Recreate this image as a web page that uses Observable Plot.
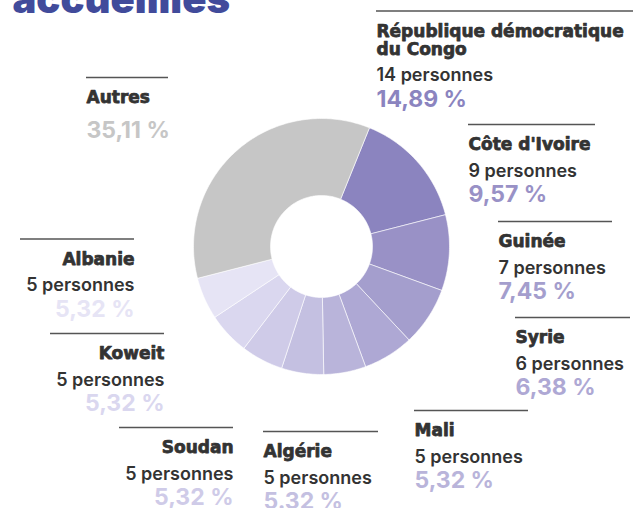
<!DOCTYPE html>
<html><head><meta charset="utf-8">
<script src="https://cdn.jsdelivr.net/npm/d3@7"></script>
<script src="https://cdn.jsdelivr.net/npm/@observablehq/plot@0.6"></script>
<style>html,body{margin:0;padding:0;background:#fff;overflow:hidden} svg{display:block}</style>
</head><body><div id="chart"></div>
<script>
// ---- Data ----
const title = "accueillies";
const countries = ["République démocratique du Congo","Côte d'Ivoire","Guinée","Syrie","Mali","Algérie","Soudan","Koweit","Albanie","Autres"];
const nameLines = [["République démocratique","du Congo"],["Côte d'Ivoire"],["Guinée"],["Syrie"],["Mali"],["Algérie"],["Soudan"],["Koweit"],["Albanie"],["Autres"]];
const persons = [14,9,7,6,5,5,5,5,5,33];
const personLabels = ["14 personnes","9 personnes","7 personnes","6 personnes","5 personnes","5 personnes","5 personnes","5 personnes","5 personnes",null];
const percents = [14.89,9.57,7.45,6.38,5.32,5.32,5.32,5.32,5.32,35.11];
const pctLabels = ["14,89 %","9,57 %","7,45 %","6,38 %","5,32 %","5.32 %","5,32 %","5,32 %","5,32 %","35,11 %"];
const colors = ["#8b84bf","#9991c6","#a49ecd","#aea8d4","#b9b4da","#c4c0e1","#cfcbe8","#dad7ef","#e6e4f5","#c6c6c6"];

// ---- Layout (annotation placement, not data) ----
const W = 635, H = 508;
const CX = 321, CY = 246, R_OUT = 128, R_IN = 51, START_DEG = 22;
const labelLayout = [
  {x1:376, x2:633, y:10.5, anchor:"start"},
  {x1:468, x2:595, y:124, anchor:"start"},
  {x1:498, x2:612, y:221, anchor:"start"},
  {x1:515, x2:630, y:317, anchor:"start"},
  {x1:414, x2:528, y:410, anchor:"start"},
  {x1:263, x2:378, y:431, anchor:"start"},
  {x1:119, x2:233, y:427, anchor:"end"},
  {x1:50,  x2:164, y:333, anchor:"end"},
  {x1:20,  x2:134, y:238.5, anchor:"end"},
  {x1:86,  x2:168, y:77, anchor:"start"}
];
const FONT = "Inter, 'Open Sans', sans-serif";
const NAME_FONT = "'DejaVu Sans', Inter, sans-serif";

// ---- Slices from the data ----
const arcs = d3.pie().sort(null).value(d => d)
  .startAngle(START_DEG * Math.PI / 180)
  .endAngle(START_DEG * Math.PI / 180 + 2 * Math.PI)(percents);
const slicePts = [];
arcs.forEach((a, i) => {
  const n = Math.max(8, Math.ceil((a.endAngle - a.startAngle) / (Math.PI / 180)));
  const pts = [];
  for (let k = 0; k <= n; k++) pts.push([R_OUT, a.startAngle + (a.endAngle - a.startAngle) * k / n]);
  for (let k = n; k >= 0; k--) pts.push([R_IN, a.startAngle + (a.endAngle - a.startAngle) * k / n]);
  pts.push(pts[0]);
  pts.forEach(([r, t]) => slicePts.push({country: countries[i], x: CX + r * Math.sin(t), y: CY - r * Math.cos(t)}));
});

// ---- Label rows ----
const textRows = [];
countries.forEach((c, i) => {
  const L = labelLayout[i];
  const x = L.anchor === "start" ? L.x1 : L.x2;
  let y = L.y + 25.5;
  nameLines[i].forEach((ln, j) => {
    if (j > 0) y += 18;
    textRows.push({kind:"name", anchor:L.anchor, x, y, text:ln, color:"#333"});
  });
  if (personLabels[i]) {
    y += 26.5;
    textRows.push({kind:"pers", anchor:L.anchor, x, y, text:personLabels[i], color:"#333"});
    y += 25.5;
  } else {
    y += 34.5;
  }
  textRows.push({kind:"pct", anchor:L.anchor, x, y, text:pctLabels[i], color:colors[i]});
});
const rules = countries.map((c, i) => ({...labelLayout[i]}));

const styles = {
  name: {fontSize: 17, fontWeight: 700, fontFamily: NAME_FONT, stroke: d => d.color, strokeWidth: 0.75},
  pers: {fontSize: 18, fontWeight: 600, fontFamily: FONT},
  pct:  {fontSize: 23, fontWeight: 700, fontFamily: FONT}
};
const textMarks = [];
for (const kind of ["name","pers","pct"]) {
  for (const anchor of ["start","end"]) {
    const rows = textRows.filter(d => d.kind === kind && d.anchor === anchor);
    textMarks.push(Plot.text(rows, {
      x: "x", y: "y", text: "text", fill: d => d.color,
      textAnchor: anchor, lineAnchor: "bottom", ariaLabel: "lbl-" + kind,
      ...styles[kind]
    }));
  }
}

const chart = Plot.plot({
  width: W, height: H,
  margin: 0,
  x: {domain: [0, W], range: [0, W], axis: null},
  y: {domain: [0, H], range: [0, H], axis: null},
  color: {type: "ordinal", domain: countries, range: colors},
  style: {background: "#fff", fontFamily: FONT},
  marks: [
    Plot.line(slicePts, {x: "x", y: "y", z: "country", fill: "country", stroke: "#fff", strokeWidth: 0.6, curve: "linear"}),
    Plot.ruleY(rules, {y: "y", x1: "x1", x2: "x2", stroke: "#555", strokeWidth: 1.3}),
    Plot.text([title], {x: 12, y: 12, text: d => d, textAnchor: "start", lineAnchor: "bottom",
      fontFamily: FONT, fontSize: 40, fontWeight: 900, fill: "#414b9b"}),
    ...textMarks
  ]
});
d3.select(chart).selectAll("g[aria-label='lbl-pers']").style("letter-spacing", "1.1px").style("stroke", "#333").style("stroke-width", "0.45px");
d3.select(chart).selectAll("g[aria-label='lbl-pct']").style("letter-spacing", "0.3px");
document.getElementById("chart").appendChild(chart);
</script>
</body></html>
